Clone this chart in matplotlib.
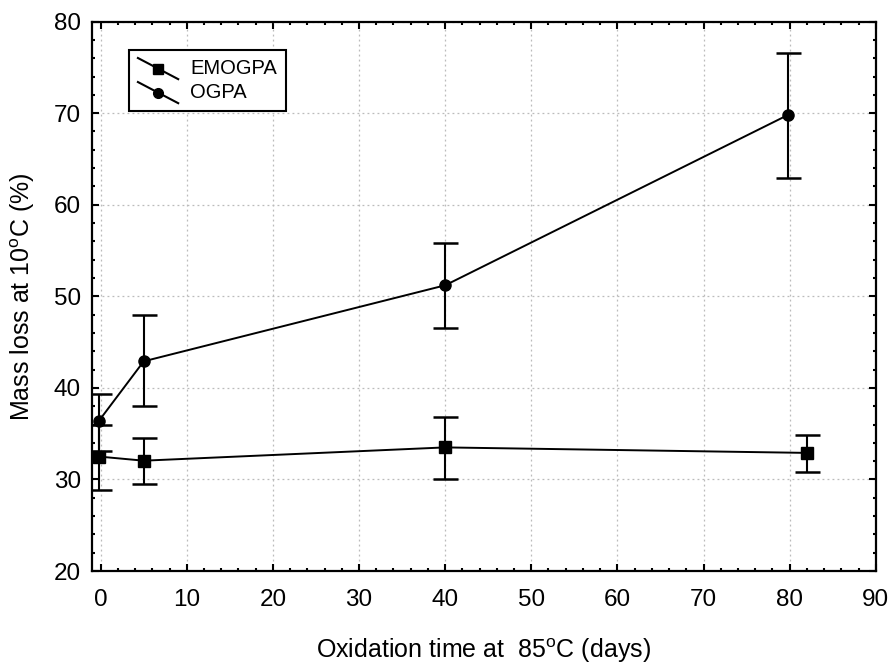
import matplotlib
matplotlib.use("Agg")
import matplotlib.pyplot as plt
from matplotlib.legend_handler import HandlerLine2D
from matplotlib.lines import Line2D
from matplotlib.ticker import MultipleLocator

plt.rcParams['font.family'] = ['Liberation Sans', 'DejaVu Sans']
plt.rcParams['mathtext.default'] = 'regular'

# oxidation time (days) and mass loss (%)
emogpa_days = [-0.2, 5, 40, 82]
emogpa_loss = [32.5, 32.05, 33.5, 32.9]
emogpa_err_lo = [3.6, 2.6, 3.4, 2.1]
emogpa_err_hi = [3.4, 2.5, 3.3, 2.0]

ogpa_days = [-0.2, 5, 40, 79.8]
ogpa_loss = [36.4, 42.9, 51.2, 69.8]
ogpa_err_lo = [3.3, 4.9, 4.7, 6.9]
ogpa_err_hi = [2.9, 5.1, 4.6, 6.8]


class DiagonalHandler(HandlerLine2D):
    # Statistica-style legend key: slanted line with the marker in the middle
    def create_artists(self, legend, orig_handle, xdescent, ydescent,
                       width, height, fontsize, trans):
        x0, x1 = -xdescent, -xdescent + width
        y0, y1 = -ydescent + height * 1.15, -ydescent - height * 0.35
        line = Line2D([x0, x1], [y0, y1], color='black', lw=1.5)
        mark = Line2D([(x0 + x1) / 2], [(y0 + y1) / 2],
                      marker=orig_handle.get_marker(), color='black',
                      markersize=7, ls='none')
        line.set_transform(trans)
        mark.set_transform(trans)
        return [line, mark]


fig = plt.figure(figsize=(8.9, 6.66), dpi=100)
ax = fig.add_axes([0.1034, 0.1426, 0.8806, 0.825])

h1 = ax.errorbar(emogpa_days, emogpa_loss, yerr=[emogpa_err_lo, emogpa_err_hi],
                 color='black', marker='s', markersize=8, lw=1.4,
                 elinewidth=1.5, capsize=9, capthick=1.8, label='EMOGPA')
h2 = ax.errorbar(ogpa_days, ogpa_loss, yerr=[ogpa_err_lo, ogpa_err_hi],
                 color='black', marker='o', markersize=8, lw=1.4,
                 elinewidth=1.5, capsize=9, capthick=1.8, label='OGPA')

ax.set_xlim(-1, 90)
ax.set_ylim(20, 80)
ax.xaxis.set_major_locator(MultipleLocator(10))
ax.xaxis.set_minor_locator(MultipleLocator(2))
ax.yaxis.set_major_locator(MultipleLocator(10))
ax.yaxis.set_minor_locator(MultipleLocator(2))
ax.tick_params(which='both', direction='in', top=True, right=True,
               labelsize=17.5, width=1.5)
ax.tick_params(which='major', length=5, pad=8)
ax.tick_params(axis='x', which='major', pad=13)
ax.tick_params(which='minor', length=2.5)
for s in ax.spines.values():
    s.set_linewidth(1.6)
ax.grid(True, which='major', color='#bbbbbb', ls=(0, (1.5, 2.5)), lw=0.9)

ax.set_xlabel('Oxidation time at  85$^{o}$C (days)', fontsize=18, labelpad=18)
ax.set_ylabel('Mass loss at 10$^{o}$C (%)', fontsize=18, labelpad=12)

leg = ax.legend([h1.lines[0], h2.lines[0]], ['EMOGPA', 'OGPA'],
                handler_map={Line2D: DiagonalHandler()},
                loc='upper left', bbox_to_anchor=(0.047, 0.948),
                fontsize=14.5, frameon=True, fancybox=False, framealpha=1,
                edgecolor='black', handlelength=2.0, handletextpad=0.6,
                borderpad=0.45, labelspacing=0.25, borderaxespad=0)
leg.get_frame().set_linewidth(1.5)

fig.savefig('out.png', dpi=100)
